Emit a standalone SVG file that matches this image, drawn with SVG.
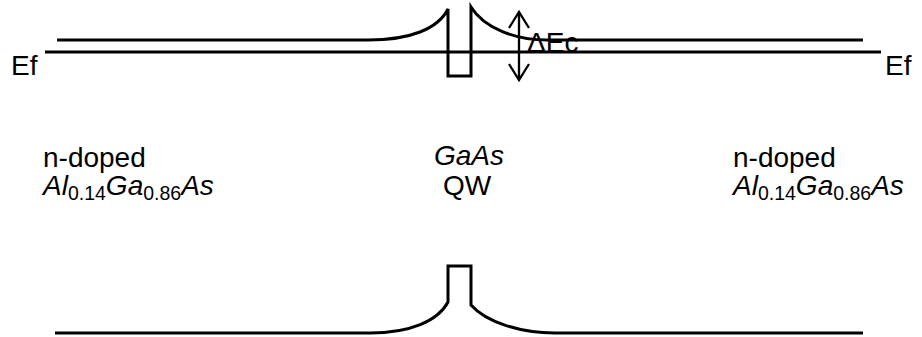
<svg xmlns="http://www.w3.org/2000/svg" width="922" height="337" viewBox="0 0 922 337">
<style>
.ln{fill:none;stroke:#000;stroke-width:3;stroke-linecap:butt;stroke-linejoin:miter}
.ar{fill:none;stroke:#000;stroke-width:2.3}
.t{font-family:"Liberation Sans",Arial,sans-serif;font-size:28px;fill:#000}
.i{font-style:italic}
.sub{font-size:19.5px;font-style:normal}
</style>
<rect width="922" height="337" fill="#fff"/>
<g id="conduction-band">
<path class="ln" d="M57,40 H368 C410,40 438,29 448,9 V76 H471 V7 C484,28 515,40 547,40 H863"/>
<path class="ln" d="M45,52 H881"/>
</g>
<g id="valence-band">
<path class="ln" d="M55,333 H370 C410,333 438,321 448,302 V266 H471 V305 C486,322 520,333 555,333 H863"/>
</g>
<g id="delta-ec">
<path class="ar" d="M519,12 V80 M509,28 L519,12 L529,28 M509,64 L519,80 L529,64"/>
<text class="t" x="527" y="52">ΔEc</text>
</g>
<g id="labels">
<text class="t" x="11" y="75">Ef</text>
<text class="t" x="885" y="75">Ef</text>
<text class="t" x="43" y="167">n-doped</text>
<text class="t i" x="43" y="195">Al<tspan class="sub" dy="5">0.14</tspan><tspan dy="-5">Ga</tspan><tspan class="sub" dy="5">0.86</tspan><tspan dy="-5">As</tspan></text>
<text class="t i" x="469" y="165" text-anchor="middle">GaAs</text>
<text class="t" x="467" y="195" text-anchor="middle">QW</text>
<text class="t" x="733" y="167">n-doped</text>
<text class="t i" x="733" y="195">Al<tspan class="sub" dy="5">0.14</tspan><tspan dy="-5">Ga</tspan><tspan class="sub" dy="5">0.86</tspan><tspan dy="-5">As</tspan></text>
</g>
</svg>
